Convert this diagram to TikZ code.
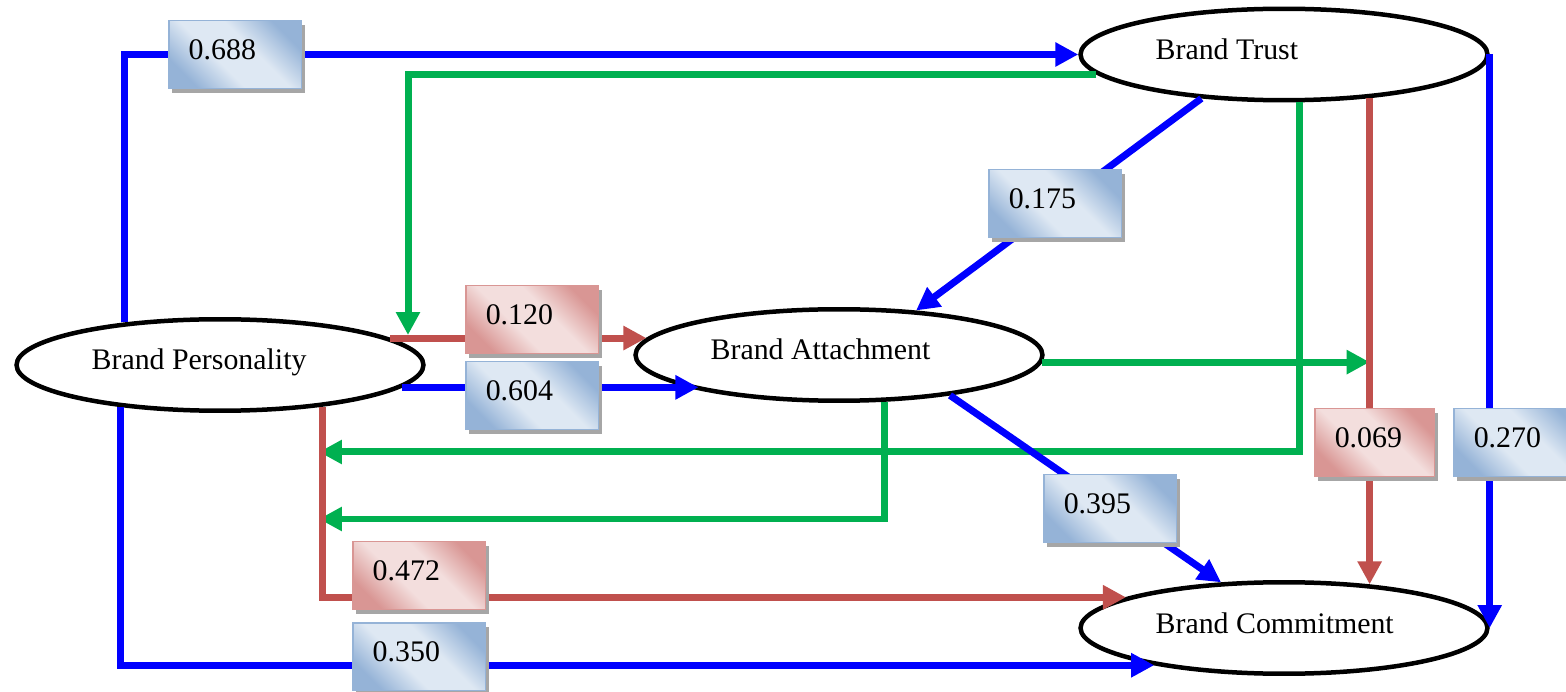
\documentclass[tikz,border=0pt]{standalone}
\usepackage{fontspec}
\setmainfont{Liberation Serif}
\usetikzlibrary{shapes.geometric,arrows.meta,shadows,calc}
\definecolor{lineblue}{RGB}{0,0,255}
\definecolor{linegreen}{RGB}{0,176,80}
\definecolor{linered}{RGB}{192,80,77}
\definecolor{boxblueD}{RGB}{149,179,215}
\definecolor{boxblueL}{RGB}{222,232,243}
\definecolor{boxredD}{RGB}{217,150,148}
\definecolor{boxredL}{RGB}{243,222,221}
\pgfdeclarehorizontalshading{blueshade}{100bp}{color(0bp)=(boxblueD); color(25bp)=(boxblueD); color(42bp)=(boxblueL); color(58bp)=(boxblueL); color(75bp)=(boxblueD); color(100bp)=(boxblueD)}
\pgfdeclarehorizontalshading{redshade}{100bp}{color(0bp)=(boxredD); color(25bp)=(boxredD); color(42bp)=(boxredL); color(58bp)=(boxredL); color(75bp)=(boxredD); color(100bp)=(boxredD)}
\begin{document}
\begin{tikzpicture}[x=0.02cm,y=-0.02cm,construct/.style={shape=ellipse,draw=black,line width=0.09cm,fill=white,minimum width=8.14cm,minimum height=1.83cm,inner sep=0pt},cname/.style={anchor=base west,inner sep=0pt,font=\fontsize{17}{20}\selectfont},coef/.style={anchor=north west,minimum height=1.36cm,text width=1.86cm,inner xsep=0.4cm,inner ysep=0pt,align=left,text depth=0.22cm,line width=0.03cm,font=\fontsize{17}{20}\selectfont,drop shadow={shadow xshift=0.06cm,shadow yshift=-0.08cm,fill=gray!70,opacity=1}},coefB/.style={coef,draw=boxblueD,shading=blueshade,shading angle=45},coefR/.style={coef,draw=boxredD,shading=redshade,shading angle=45},arr/.style={-{Triangle[length=0.46cm,width=0.46cm]}},bline/.style={arr,line width=0.14cm,lineblue},gline/.style={arr,line width=0.14cm,linegreen},rline/.style={arr,line width=0.14cm,linered}]
\useasboundingbox (0,0) rectangle (1566,692);

\node[construct] (T) at (1284,54.5) {};
\node[cname] (Tt) at ($(T.west)+(77,5)$) {Brand Trust};
\node[construct] (A) at (839,355) {};
\node[cname] (At) at ($(A.west)+(77,5)$) {Brand Attachment};
\node[construct] (P) at (220,365) {};
\node[cname] (Pt) at ($(P.west)+(77,5)$) {Brand Personality};
\node[construct] (C) at (1284,628) {};
\node[cname] (Ct) at ($(C.west)+(77,5)$) {Brand Commitment};

\coordinate (m1) at (408,335);
\coordinate (m3) at (319,452);
\coordinate (m4) at (319,519);

\draw[bline] (P.156) |- (T.west);
\draw[gline] (T.186) -| (m1);
\draw[rline] (P.9) -- (P.9 -| A.175);
\draw[bline] (P.353) -- (P.353 -| A.194);
\draw[bline] (T.208) -- (A.30);
\draw[gline] (A.358) -- (A.358 -| T.333);
\draw[gline] (T.288) |- (m3);
\draw[gline] (A.314) |- (m4);
\draw[rline] (P.338) |- (C.169);
\draw[bline] (P.203) |- (C.196);
\draw[bline] (A.340) -- (C.144);
\draw[rline] (T.333) -- (C.27);
\draw[bline] (T.east) -- (C.east);

\node[coefB] (cPT) at (168,20) {0.688};
\node[coefR] (cPAr) at (465,285) {0.120};
\node[coefB] (cPA) at (465,361) {0.604};
\node[coefB] (cTA) at (988,169) {0.175};
\node[coefB] (cAC) at (1043,474) {0.395};
\node[coefR,text width=1.6cm] (cTCr) at (1314,408) {0.069};
\node[coefB] (cTC) at (1453,408) {0.270};
\node[coefR] (cPCr) at (352,541) {0.472};
\node[coefB] (cPC) at (352,622) {0.350};
\end{tikzpicture}
\end{document}
